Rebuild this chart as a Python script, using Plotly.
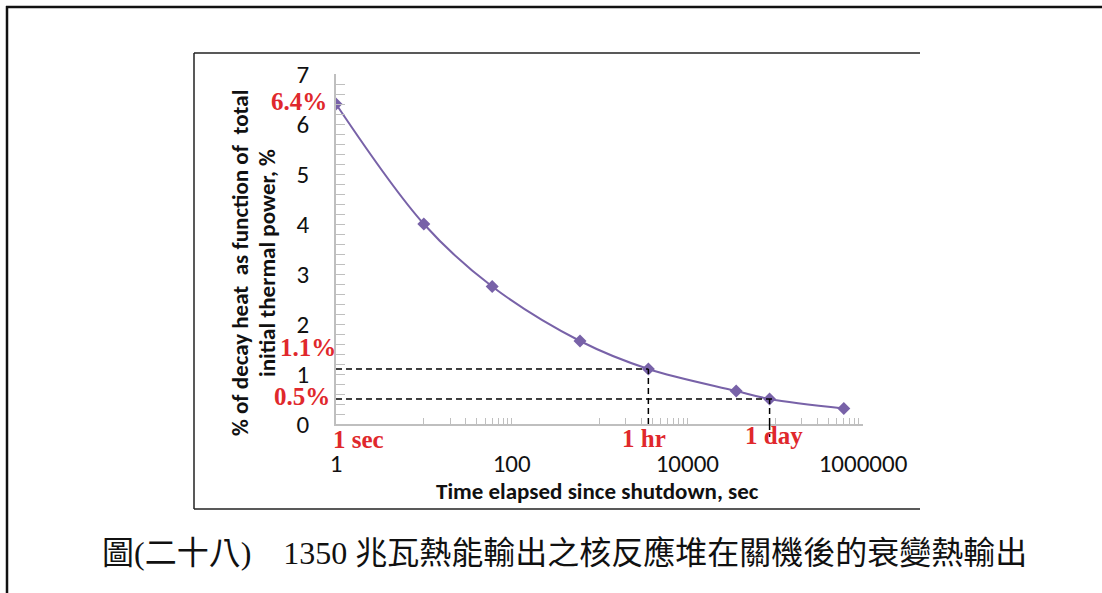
import plotly.graph_objects as go

# Decay heat after shutdown (1350 MW thermal reactor)
time_sec = [1, 10, 60, 600, 3600, 36000, 86400, 604800]
decay_pct = [6.4, 4.0, 2.75, 1.66, 1.1, 0.66, 0.5, 0.31]

x_tick_vals = [1, 100, 10000, 1000000]
x_tick_text = ["1", "100", "10000", "1000000"]
y_tick_vals = [0, 1, 2, 3, 4, 5, 6, 7]

hour_sec, hour_pct = 3600, 1.1
day_sec, day_pct = 86400, 0.5

W, H = 1102, 593
L, R, T, B = 336, 863, 74, 424  # plot area in pixels


def px_x(p):
    return (p - L) / (R - L)


def px_y(p):
    return (B - p) / (B - T)


PURPLE = "#7862a8"
RED = "#e0282c"
GREY = "#bfbfbf"
SANS = "Carlito, Lato, sans-serif"
SERIF = "Liberation Serif, Times New Roman, serif"

fig = go.Figure()
fig.add_trace(go.Scatter(
    x=time_sec, y=decay_pct, mode="lines+markers",
    line=dict(color=PURPLE, width=2, shape="spline", smoothing=1),
    marker=dict(symbol="diamond", size=10, color=PURPLE),
    hoverinfo="x+y",
))

# minor ticks of the log axis: 10..90, 1000..9000, 100000..900000
minor_x = [k * 10 * 100 ** n for n in range(3) for k in range(1, 10)]

dash = "6px,4px"
shapes = [
    # reference lines for 1 hour and 1 day
    dict(type="line", xref="x", yref="y", x0=1, x1=hour_sec, y0=hour_pct, y1=hour_pct,
         line=dict(color="black", width=1.5, dash=dash)),
    dict(type="line", xref="x", yref="y", x0=hour_sec, x1=hour_sec, y0=0, y1=hour_pct,
         line=dict(color="black", width=1.5, dash=dash)),
    dict(type="line", xref="x", yref="y", x0=1, x1=day_sec * 1.15, y0=day_pct, y1=day_pct,
         line=dict(color="black", width=1.5, dash=dash)),
    dict(type="line", xref="x", yref="y", x0=day_sec, x1=day_sec, y0=0, y1=day_pct,
         line=dict(color="black", width=1.5, dash=dash)),
    dict(type="line", xref="x", yref="paper", x0=day_sec, x1=day_sec, y0=0, y1=px_y(437),
         line=dict(color="black", width=1.5, dash=dash)),
    # outer page frame
    dict(type="line", xref="paper", yref="paper", x0=px_x(6), x1=px_x(W), y0=px_y(7), y1=px_y(7),
         line=dict(color="#111111", width=2.5)),
    dict(type="line", xref="paper", yref="paper", x0=px_x(7), x1=px_x(7), y0=px_y(6), y1=px_y(H),
         line=dict(color="#111111", width=2.5)),
    # chart frame (left, top, bottom)
    dict(type="line", xref="paper", yref="paper", x0=px_x(194), x1=px_x(194), y0=px_y(53), y1=px_y(509),
         line=dict(color="#222222", width=1.5)),
    dict(type="line", xref="paper", yref="paper", x0=px_x(194), x1=px_x(920), y0=px_y(53), y1=px_y(53),
         line=dict(color="#222222", width=1.5)),
    dict(type="line", xref="paper", yref="paper", x0=px_x(194), x1=px_x(920), y0=px_y(509), y1=px_y(509),
         line=dict(color="#222222", width=1.5)),
]


def label(text, x, y, xanchor="center", yanchor="middle", size=25, color=RED, family=SERIF,
          bold=True, angle=0):
    return dict(text=f"<b>{text}</b>" if bold else text, xref="paper", yref="paper",
                x=px_x(x), y=px_y(y), xanchor=xanchor, yanchor=yanchor, showarrow=False,
                textangle=angle, font=dict(family=family, size=size, color=color))


annotations = [
    label("6.4%", 329, 101, xanchor="right"),
    label("1.1%", 338, 347, xanchor="right"),
    label("0.5%", 332, 396, xanchor="right"),
    label("1 sec", 331, 439, xanchor="left"),
    label("1 hr", 620, 438, xanchor="left"),
    label("1 day", 743, 435, xanchor="left"),
    label("Time elapsed since shutdown, sec", 597, 491, size=23, color="#111111", family=SANS),
    label("% of decay heat\u00a0\u00a0as function of\u00a0\u00a0total", 240, 263, size=23,
          color="#111111", family=SANS, angle=-90),
    label("initial thermal power, %", 267, 263, size=23, color="#111111", family=SANS, angle=-90),
    label("圖(二十八)\u30001350 兆瓦熱能輸出之核反應堆在關機後的衰變熱輸出", 100, 553,
          xanchor="left", size=32, color="#111111",
          family="Liberation Serif, Noto Sans CJK TC", bold=False),
]

fig.update_layout(
    width=W, height=H,
    margin=dict(l=L, r=W - R, t=T, b=H - B, pad=0),
    paper_bgcolor="white", plot_bgcolor="white",
    showlegend=False,
    shapes=shapes,
    annotations=annotations,
    xaxis=dict(
        type="log", range=[0, 6],
        tickmode="array", tickvals=x_tick_vals, ticktext=x_tick_text,
        ticks="inside", ticklen=6, tickwidth=1, tickcolor=GREY,
        minor=dict(tickmode="array", tickvals=minor_x, ticks="inside", ticklen=6,
                   tickwidth=1, tickcolor=GREY, showgrid=False),
        showline=True, linecolor=GREY, linewidth=1.5,
        showgrid=False, zeroline=False,
        tickfont=dict(family=SANS, size=25, color="#111111"),
        ticklabelstandoff=16,
    ),
    yaxis=dict(
        range=[0, 7], tickmode="array", tickvals=y_tick_vals,
        ticks="inside", ticklen=9, tickwidth=1, tickcolor=GREY,
        minor=dict(dtick=0.2, ticks="inside", ticklen=9, tickwidth=1, tickcolor=GREY,
                   showgrid=False),
        showline=True, linecolor=GREY, linewidth=1.5,
        showgrid=False, zeroline=False,
        tickfont=dict(family=SANS, size=25, color="#111111"),
        ticklabelstandoff=20,
    ),
)

fig.write_html("out.html")
